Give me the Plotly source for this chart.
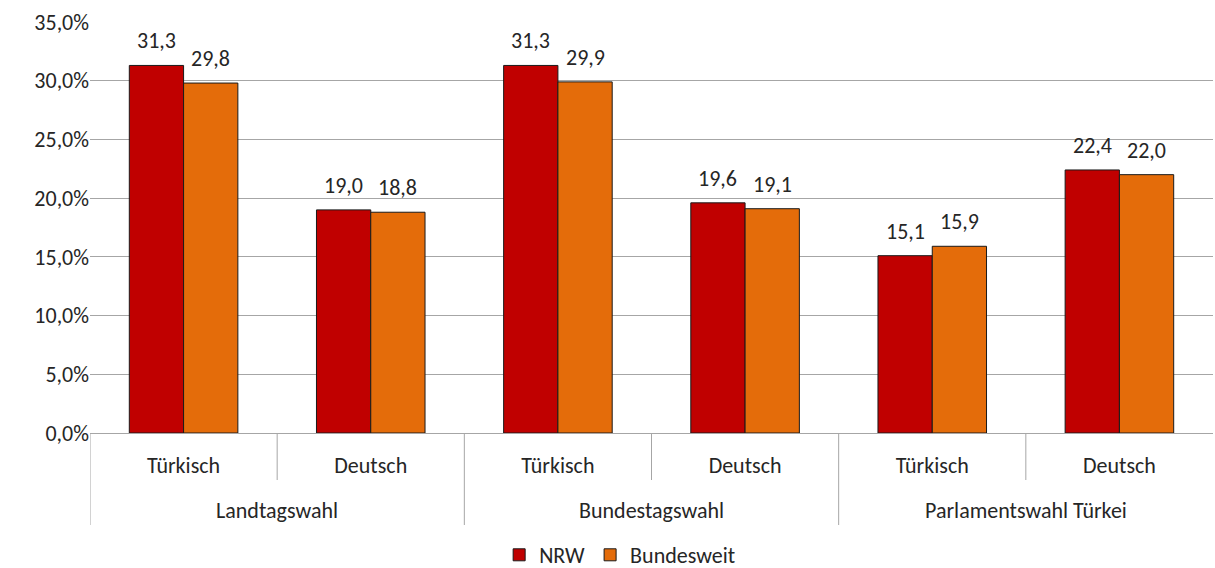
import plotly.graph_objects as go

elections = ["Landtagswahl", "Landtagswahl", "Bundestagswahl", "Bundestagswahl",
             "Parlamentswahl Türkei", "Parlamentswahl Türkei"]
languages = ["Türkisch", "Deutsch", "Türkisch", "Deutsch", "Türkisch", "Deutsch"]
nrw = [31.3, 19.0, 31.3, 19.6, 15.1, 22.4]
bundesweit = [29.8, 18.8, 29.9, 19.1, 15.9, 22.0]

def fmt(v):
    return f"{v:.1f}".replace(".", ",")

font = "Carlito, Lato, 'Liberation Sans', sans-serif"
FS = 22
TXT = "#262626"
LINE = "#A6A6A6"
BARGAP = 0.42

pos = list(range(len(languages)))
series = [("NRW", nrw, "#C00000"), ("Bundesweit", bundesweit, "#E46C0A")]
n_series = len(series)
bw = (1 - BARGAP) / n_series

fig = go.Figure()
for k, (name, vals, col) in enumerate(series):
    fig.add_trace(go.Bar(
        name=name, x=pos, y=vals,
        marker=dict(color=col, line=dict(color="#1a1a1a", width=1)),
        hoverinfo="skip",
    ))
    off = -(1 - BARGAP) / 2 + bw * (k + 0.5)
    for p, v in zip(pos, vals):
        fig.add_annotation(x=p + off, y=v, xref="x", yref="y", text=fmt(v),
                           showarrow=False, yanchor="bottom", yshift=9,
                           font=dict(size=FS, color=TXT))

# group structure
groups = []
for i, g in enumerate(elections):
    if not groups or groups[-1][0] != g:
        groups.append([g, i, i])
    else:
        groups[-1][2] = i

ph = 568 - 22 - 135  # plot height in px
inner_len = 47 / ph
outer_len = 92 / ph

shapes = []
for g, a, b in groups:
    shapes.append(dict(type="line", xref="x", yref="paper", x0=a - 0.5, x1=a - 0.5,
                       y0=0, y1=-outer_len, line=dict(color=LINE, width=1)))
    for i in range(a, b):
        shapes.append(dict(type="line", xref="x", yref="paper", x0=i + 0.5, x1=i + 0.5,
                           y0=0, y1=-inner_len, line=dict(color=LINE, width=1)))
    fig.add_annotation(x=(a + b) / 2, y=0, xref="x", yref="paper", text=g,
                       showarrow=False, yanchor="middle", yshift=-77,
                       font=dict(size=FS, color=TXT))

fig.update_layout(
    width=1215, height=568,
    margin=dict(l=90, r=2, t=22, b=135),
    paper_bgcolor="white", plot_bgcolor="white",
    barmode="group", bargap=BARGAP, bargroupgap=0,
    separators=",.",
    font=dict(family=font, size=FS, color=TXT),
    legend=dict(orientation="h", x=0.51, xref="container", xanchor="center",
                y=13 / 568, yref="container", yanchor="middle",
                font=dict(size=FS), traceorder="normal"),
    shapes=shapes,
)
fig.update_yaxes(
    range=[0, 35], dtick=5, tickformat=".1f", ticksuffix="%",
    showgrid=True, gridcolor=LINE, gridwidth=1,
    zeroline=False, showline=False, ticks="", automargin=False,
    tickfont=dict(size=FS),
)
fig.update_xaxes(
    range=[-0.5, len(pos) - 0.5],
    tickvals=pos, ticktext=languages,
    showline=True, linecolor=LINE, linewidth=1,
    ticks="", ticklabelstandoff=13, showgrid=False, zeroline=False,
    automargin=False, tickfont=dict(size=FS),
)

fig.write_html("out.html", post_script="document.body.style.margin='0px';",
               config={"displayModeBar": False})
